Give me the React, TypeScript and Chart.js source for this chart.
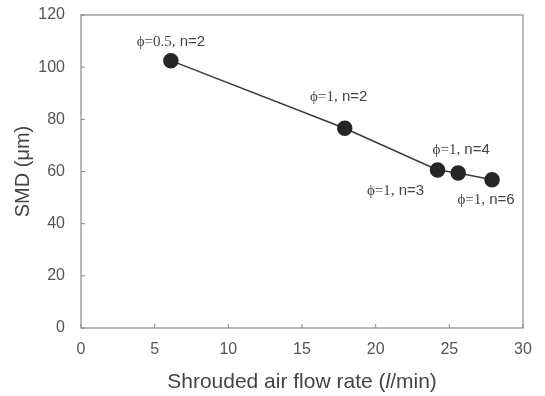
import React, { useEffect, useRef } from "react";
import { Chart, registerables } from "chart.js";

Chart.register(...registerables);

const flowRates = [6.1, 17.9, 24.2, 25.6, 27.9];
const smdValues = [102.5, 76.6, 60.6, 59.4, 56.8];
const labelPhi = ["\u03d5=0.5,", "\u03d5=1,", "\u03d5=1,", "\u03d5=1,", "\u03d5=1,"];
const labelN = [" n=2", " n=2", " n=3", " n=4", " n=6"];
const labelOffsets = [[0, -19], [-6, -31], [-42, 21], [3, -23], [-6, 20]];
const xTitleParts = ["Shrouded air flow rate (", "l", "/min)"];
const yTitle = "SMD (\u03bcm)";

const SANS = "Arial, 'Liberation Sans', sans-serif";
const SERIF = "'Liberation Serif', 'Times New Roman', serif";

const framePlugin = {
  id: "frame",
  afterDraw(chart: any) {
    const { ctx, chartArea, scales } = chart;
    ctx.save();
    ctx.strokeStyle = "#8a8a8a";
    ctx.lineWidth = 1.2;
    ctx.strokeRect(chartArea.left, chartArea.top, chartArea.right - chartArea.left, chartArea.bottom - chartArea.top);
    ctx.lineWidth = 1;
    scales.x.ticks.forEach((t: any) => {
      const px = scales.x.getPixelForValue(t.value);
      ctx.beginPath();
      ctx.moveTo(px, chartArea.bottom);
      ctx.lineTo(px, chartArea.bottom - 4);
      ctx.stroke();
    });
    scales.y.ticks.forEach((t: any) => {
      const py = scales.y.getPixelForValue(t.value);
      ctx.beginPath();
      ctx.moveTo(chartArea.left, py);
      ctx.lineTo(chartArea.left + 4, py);
      ctx.stroke();
    });

    // axis titles
    ctx.fillStyle = "#444";
    ctx.textBaseline = "middle";
    ctx.textAlign = "left";
    const fonts = [`21px ${SANS}`, `italic 21px ${SANS}`, `21px ${SANS}`];
    let total = 0;
    const widths = xTitleParts.map((p, i) => {
      ctx.font = fonts[i];
      const w = ctx.measureText(p).width;
      total += w;
      return w;
    });
    let x = (chartArea.left + chartArea.right) / 2 - total / 2;
    xTitleParts.forEach((p, i) => {
      ctx.font = fonts[i];
      ctx.fillText(p, x, 382);
      x += widths[i];
    });

    ctx.save();
    ctx.translate(23, (chartArea.top + chartArea.bottom) / 2);
    ctx.rotate(-Math.PI / 2);
    ctx.textAlign = "center";
    ctx.font = `20px ${SANS}`;
    ctx.fillText(yTitle, 0, 0);
    ctx.restore();
    ctx.restore();
  },
};

const labelPlugin = {
  id: "pointLabels",
  afterDatasetsDraw(chart: any) {
    const { ctx, scales } = chart;
    ctx.save();
    ctx.fillStyle = "#444";
    ctx.textAlign = "left";
    ctx.textBaseline = "middle";
    labelPhi.forEach((phi, i) => {
      const cx = scales.x.getPixelForValue(flowRates[i]) + labelOffsets[i][0];
      const cy = scales.y.getPixelForValue(smdValues[i]) + labelOffsets[i][1];
      ctx.font = `15px ${SERIF}`;
      const w1 = ctx.measureText(phi).width;
      ctx.font = `15px ${SANS}`;
      const w2 = ctx.measureText(labelN[i]).width;
      const start = cx - (w1 + w2) / 2;
      ctx.font = `15px ${SERIF}`;
      ctx.fillText(phi, start, cy);
      ctx.font = `15px ${SANS}`;
      ctx.fillText(labelN[i], start + w1, cy);
    });
    ctx.restore();
  },
};

export default function App() {
  const ref = useRef<HTMLCanvasElement>(null);
  useEffect(() => {
    if (!ref.current) return;
    const chart = new Chart(ref.current, {
      type: "scatter",
      data: {
        datasets: [
          {
            data: flowRates.map((x, i) => ({ x, y: smdValues[i] })),
            showLine: true,
            borderColor: "#3a3a3a",
            borderWidth: 1.5,
            backgroundColor: "#262626",
            pointBackgroundColor: "#262626",
            pointBorderColor: "#262626",
            pointRadius: 7,
          },
        ],
      },
      options: {
        animation: false,
        responsive: false,
        layout: { padding: { left: 0, right: 22, top: 15, bottom: 0 } },
        plugins: { legend: { display: false }, tooltip: { enabled: false } },
        scales: {
          x: {
            type: "linear",
            min: 0,
            max: 30,
            ticks: { stepSize: 5, color: "#555", font: { family: SANS, size: 16 }, padding: 4 },
            grid: { display: false },
            border: { display: false },
            afterFit(scale: any) {
              scale.height = 68;
              scale.paddingLeft = 0;
              scale.paddingRight = 0;
            },
          },
          y: {
            min: 0,
            max: 120,
            ticks: { stepSize: 20, color: "#555", font: { family: SANS, size: 16 }, padding: 8 },
            grid: { display: false },
            border: { display: false },
            afterFit(scale: any) {
              scale.width = 81;
              scale.paddingTop = 0;
              scale.paddingBottom = 0;
            },
          },
        },
      },
      plugins: [framePlugin, labelPlugin],
    });
    return () => chart.destroy();
  }, []);
  return (
    <div style={{ position: "fixed", left: 0, top: 0, width: 545, height: 396, background: "#fff" }}>
      <canvas ref={ref} width={545} height={396} style={{ width: 545, height: 396 }} />
    </div>
  );
}
